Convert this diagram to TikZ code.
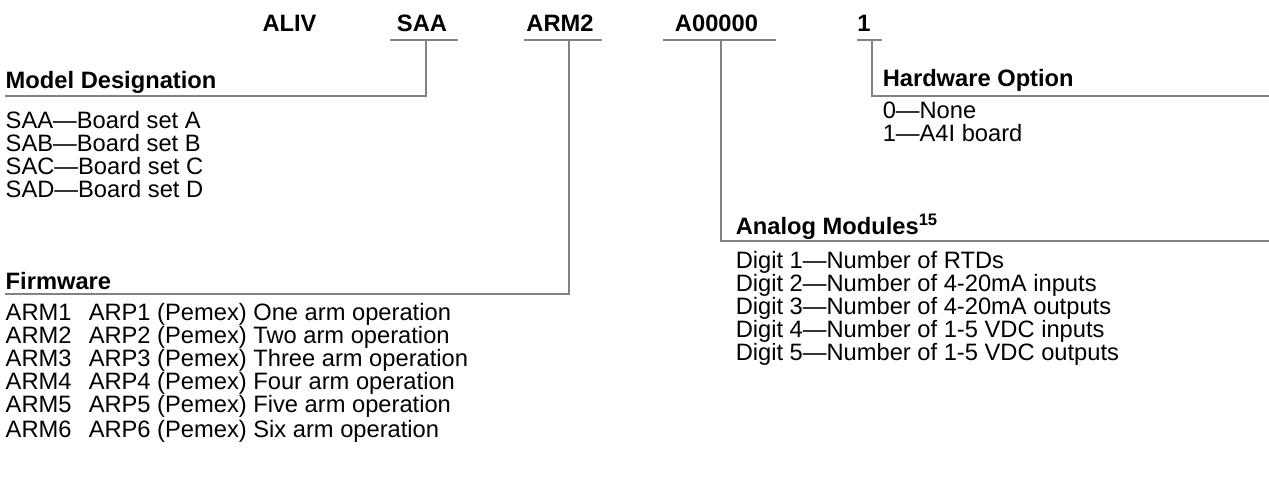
\documentclass[tikz,border=0pt]{standalone}
\usepackage{fontspec}
\setmainfont{Liberation Sans}
\usepackage{tikz}
\definecolor{rule_gray}{RGB}{130,130,130}

\begin{document}
\begin{tikzpicture}[x=0.5pt,y=-0.5pt,line width=0.75pt]
    \tikzstyle{code}=[font=\fontsize{11.85}{14}\selectfont\bfseries, anchor=base, inner sep=0]
    \tikzstyle{head}=[font=\fontsize{11.85}{14}\selectfont\bfseries, anchor=base west, inner sep=0]
    \tikzstyle{entry}=[font=\fontsize{11.85}{14}\selectfont, anchor=base west, inner sep=0]
    \tikzstyle{rule}=[draw=rule_gray]

    \useasboundingbox (0,0) rectangle (1269,488);

    % code line
    \node[code] (ALIV) at (289.5,31) {ALIV};
    \node[code] (SAA) at (422,31) {SAA};
    \node[code] (ARM) at (560,31) {ARM2};
    \node[code] (AMOD) at (716.5,31) {A00000};
    \node[code] (HW) at (864,31) {1};

    \coordinate (SAA-l) at (390,40);
    \coordinate (SAA-r) at (458,40);
    \coordinate (SAA-t) at (426,40);
    \coordinate (ARM-l) at (524,40);
    \coordinate (ARM-r) at (602,40);
    \coordinate (ARM-t) at (569,40);
    \coordinate (AMOD-l) at (663,40);
    \coordinate (AMOD-r) at (776,40);
    \coordinate (AMOD-t) at (721,40);
    \coordinate (HW-l) at (857,40);
    \coordinate (HW-r) at (882,40);
    \coordinate (HW-t) at (872,40);

    % headings and their rules
    \node[head] (MD) at (5,88) {Model Designation};
    \coordinate (MD-end) at (5,96);
    \node[head] (FW) at (5,289) {Firmware};
    \coordinate (FW-end) at (5,294);
    \node[head] (AN) at (735,234) {Analog Modules\textsuperscript{15}};
    \coordinate (AN-end) at (1269,241);
    \node[head] (HO) at (882,86) {Hardware Option};
    \coordinate (HO-end) at (1269,96);

    \draw[rule] (SAA-l) -- (SAA-r);
    \draw[rule] (ARM-l) -- (ARM-r);
    \draw[rule] (AMOD-l) -- (AMOD-r);
    \draw[rule] (HW-l) -- (HW-r);
    \draw[rule] (SAA-t) |- (MD-end);
    \draw[rule] (ARM-t) |- (FW-end);
    \draw[rule] (AMOD-t) |- (AN-end);
    \draw[rule] (HW-t) |- (HO-end);

    % model designation
    \node[entry] (MD1) at (5,128) {SAA—Board set A};
    \node[entry] (MD2) at (5,151) {SAB—Board set B};
    \node[entry] (MD3) at (5,174) {SAC—Board set C};
    \node[entry] (MD4) at (5,197) {SAD—Board set D};

    % firmware
    \node[entry] (FW1) at (5,320) {ARM1};
    \node[entry] (FW2) at (5,343) {ARM2};
    \node[entry] (FW3) at (5,366) {ARM3};
    \node[entry] (FW4) at (5,389) {ARM4};
    \node[entry] (FW5) at (5,412) {ARM5};
    \node[entry] (FW6) at (5,437) {ARM6};
    \node[entry] (FW1d) at (88,320) {ARP1 (Pemex) One arm operation};
    \node[entry] (FW2d) at (88,343) {ARP2 (Pemex) Two arm operation};
    \node[entry] (FW3d) at (88,366) {ARP3 (Pemex) Three arm operation};
    \node[entry] (FW4d) at (88,389) {ARP4 (Pemex) Four arm operation};
    \node[entry] (FW5d) at (88,412) {ARP5 (Pemex) Five arm operation};
    \node[entry] (FW6d) at (88,437) {ARP6 (Pemex) Six arm operation};

    % hardware option
    \node[entry] (HO0) at (882,118) {0—None};
    \node[entry] (HO1) at (882,141) {1—A4I board};

    % analog modules
    \node[entry] (AN1) at (735,268) {Digit 1—Number of RTDs};
    \node[entry] (AN2) at (735,291) {Digit 2—Number of 4-20mA inputs};
    \node[entry] (AN3) at (735,314) {Digit 3—Number of 4-20mA outputs};
    \node[entry] (AN4) at (735,337) {Digit 4—Number of 1-5 VDC inputs};
    \node[entry] (AN5) at (735,360) {Digit 5—Number of 1-5 VDC outputs};
\end{tikzpicture}
\end{document}
